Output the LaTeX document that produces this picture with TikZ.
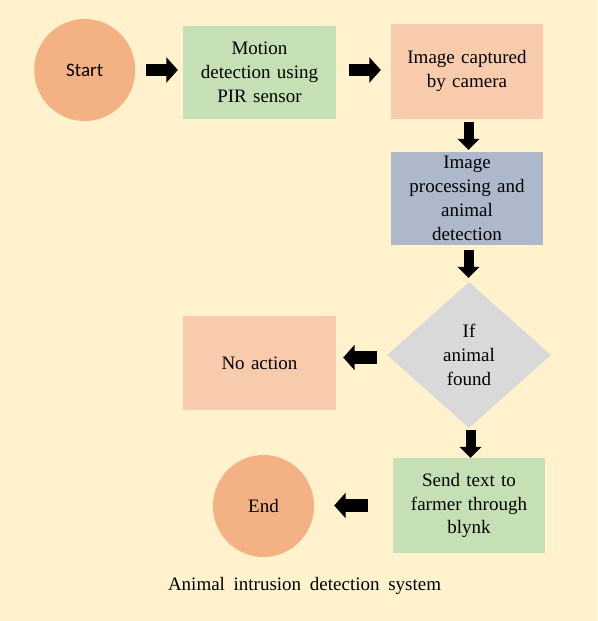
\documentclass[tikz,border=0pt]{standalone}
\usepackage{fontspec}
\setmainfont{Liberation Serif}
\newfontfamily\carlito{Carlito}
\usetikzlibrary{shapes.geometric,arrows.meta}
\definecolor{bgc}{HTML}{FFF2CC}
\definecolor{termc}{HTML}{F4B183}
\definecolor{greenc}{HTML}{C5E0B4}
\definecolor{peachc}{HTML}{F8CBAD}
\definecolor{bluec}{HTML}{ADB9CA}
\definecolor{greyc}{HTML}{D9D9D9}
\tikzset{
  txt/.style={font=\fontsize{19}{23.8}\selectfont, text=black, inner sep=0pt, align=center},
  term/.style={txt, ellipse, fill=termc, draw=none},
  procbox/.style={txt, rectangle, fill=#1, draw=none, text width=150pt},
  decis/.style={txt, diamond, fill=greyc, draw=none, minimum width=164pt, minimum height=146pt},
  harrow/.style={line width=12.5pt, -{Triangle[width=25pt,length=11.5pt]}},
  varrow/.style={line width=10pt, -{Triangle[width=21.5pt,length=11pt]}},
}
\begin{document}
\begin{tikzpicture}[x=1pt,y=-1pt]
\fill[bgc] (0,0) rectangle (597,621);
\useasboundingbox (0,0) rectangle (597,621);

\node[term, minimum width=101pt, minimum height=102pt] (start) at (84.7,70) {\carlito Start};
\node[procbox=greenc, minimum width=153pt, minimum height=93pt] (motion) at (259.5,72.5) {Motion\\detection using\\PIR sensor};
\node[procbox=peachc, minimum width=152pt, minimum height=95pt] (image) at (467,71.3) {Image captured\\by camera};
\node[procbox=bluec, minimum width=152pt, minimum height=93pt] (ip) at (467,198.5) {Image\\processing and\\animal\\detection};
\node[decis] (dec) at (469,355) {If\\animal\\found};
\node[procbox=peachc, minimum width=153pt, minimum height=94pt] (noact) at (259.5,363) {No action};
\node[procbox=greenc, minimum width=152pt, minimum height=95pt] (send) at (469,505.5) {Send text to\\farmer through\\blynk};
\node[term, minimum width=101pt, minimum height=102pt] (end) at (263.5,506) {End};

\node[txt, anchor=base] (cap) at (304.5,590) {\makebox[273pt][s]{Animal intrusion detection system}};

\draw[harrow, shorten <=11pt, shorten >=5pt] (start.east) -- (start.east -| motion.west);
\draw[harrow, shorten <=12.4pt, shorten >=10pt] ([yshift=2.5pt]motion.east) -- ([yshift=2.5pt]motion.east -| image.west);
\draw[varrow, shorten <=3.3pt, shorten >=2pt] ([xshift=1.5pt]image.south) -- ([xshift=1.5pt]image.south |- ip.north);
\draw[varrow, shorten <=5pt, shorten >=4pt] ([xshift=1.5pt]ip.south) -- ([xshift=1.5pt]ip.south |- dec.north);
\draw[harrow, shorten <=10pt, shorten >=7pt] ([yshift=-2.5pt]dec.west) -- ([yshift=-2.5pt]dec.west -| noact.east);
\draw[varrow, shorten <=2pt, shorten >=0pt] ([xshift=1.5pt]dec.south) -- ([xshift=1.5pt]dec.south |- send.north);
\draw[harrow, shorten <=25pt, shorten >=20pt] (send.west) -- (send.west -| end.east);
\end{tikzpicture}
\end{document}
